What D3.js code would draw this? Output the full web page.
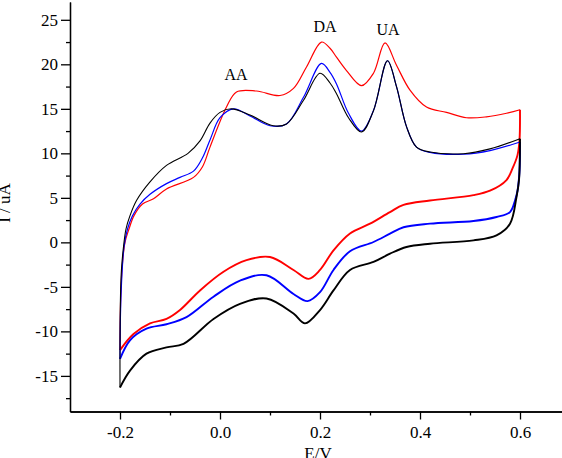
<!DOCTYPE html>
<html>
<head>
<meta charset="UTF-8">
<script src="https://d3js.org/d3.v7.min.js"></script>
<style>
  body { margin: 0; background: #fff; }
  svg text { font-family: "Liberation Serif", "Times New Roman", serif; fill: #000; }
  .axis path, .axis line { stroke: #000; stroke-width: 1.3; }
</style>
</head>
<body>
<svg id="cv" width="562" height="458"></svg>
<script>
// [E (V), I (uA)]; anodic (forward) and cathodic (reverse) sweeps
const blackFwd = [[-0.2,-16.3],[-0.2,-12],[-0.199,-6],[-0.197,-3],[-0.193,-0.5],[-0.188,1.5],[-0.18,3.0],[-0.167,4.7],[-0.14,6.8],[-0.107,8.65],[-0.064,10],[-0.04,11.4],[-0.02,13.4],[0.0,14.6],[0.023,15.0],[0.06,14.3],[0.107,13.1],[0.133,13.3],[0.167,15.96],[0.2,19.0],[0.22,17.9],[0.233,16.7],[0.257,14.0],[0.283,12.4],[0.307,14.8],[0.335,20.4],[0.353,17.5],[0.373,13.0],[0.393,10.7],[0.42,10.15],[0.487,9.96],[0.54,10.5],[0.6,11.65]];
const blackRev = [[0.6,11.65],[0.598,7],[0.593,5.1],[0.58,2.1],[0.553,0.79],[0.507,0.22],[0.42,-0.15],[0.373,-0.52],[0.34,-1.27],[0.307,-2.2],[0.26,-3.1],[0.227,-5.4],[0.2,-7.6],[0.17,-9.1],[0.147,-8.0],[0.093,-6.3],[0.04,-6.9],[-0.013,-8.6],[-0.073,-11.4],[-0.107,-11.8],[-0.147,-12.5],[-0.18,-14.4],[-0.2,-16.3]];
const blueFwd = [[-0.2,-13.1],[-0.199,-8],[-0.196,-3.5],[-0.192,-0.5],[-0.185,1.5],[-0.175,3.0],[-0.16,4.3],[-0.14,5.4],[-0.107,6.6],[-0.08,7.3],[-0.053,8.0],[-0.035,9.5],[-0.02,11.5],[0.0,14.0],[0.027,15.0],[0.06,14.2],[0.1,13.1],[0.133,13.3],[0.167,16.3],[0.203,20.1],[0.22,19.1],[0.233,17.8],[0.257,14.5],[0.283,12.5],[0.307,14.8],[0.335,20.4],[0.353,17.5],[0.373,13.0],[0.393,10.7],[0.42,10.1],[0.487,9.9],[0.54,10.3],[0.6,11.27]];
const blueRev = [[0.6,11.27],[0.599,8],[0.595,5.8],[0.59,4.7],[0.58,3.4],[0.553,2.85],[0.507,2.4],[0.42,2.1],[0.367,1.7],[0.34,0.97],[0.307,0.04],[0.26,-1.0],[0.227,-3.1],[0.2,-5.6],[0.175,-6.6],[0.147,-5.8],[0.093,-3.7],[0.04,-4.3],[-0.013,-6.1],[-0.067,-8.4],[-0.107,-9.2],[-0.147,-9.7],[-0.18,-11],[-0.2,-13.1]];
const redFwd = [[-0.2,-12.1],[-0.199,-7],[-0.196,-3],[-0.19,0],[-0.182,1.5],[-0.172,3.0],[-0.155,4.3],[-0.133,4.9],[-0.107,6.0],[-0.053,7.3],[-0.035,8.5],[-0.02,10.7],[0.013,15.2],[0.033,16.9],[0.073,17.0],[0.12,16.5],[0.147,17.3],[0.173,19.7],[0.203,22.5],[0.22,21.8],[0.233,20.8],[0.253,19.3],[0.283,17.6],[0.307,19.0],[0.33,22.4],[0.353,19.9],[0.38,17.1],[0.413,15.2],[0.453,14.6],[0.493,14.0],[0.533,14.1],[0.573,14.5],[0.6,14.9]];
const redRev = [[0.6,14.9],[0.599,11.5],[0.595,9.8],[0.585,8.3],[0.573,7.0],[0.54,5.8],[0.507,5.3],[0.42,4.7],[0.367,4.2],[0.34,3.4],[0.3,2.1],[0.26,1.0],[0.227,-0.9],[0.2,-3.1],[0.177,-4.1],[0.147,-3.1],[0.1,-1.65],[0.053,-2.0],[0.007,-3.3],[-0.04,-5.4],[-0.08,-7.6],[-0.107,-8.6],[-0.14,-9.1],[-0.173,-10.3],[-0.2,-12.1]];

const xTicks = [-0.2, 0.0, 0.2, 0.4, 0.6];
const xMinor = [-0.1, 0.1, 0.3, 0.5];
const yTicks = [-15, -10, -5, 0, 5, 10, 15, 20, 25];
const yMinor = [-17.5, -12.5, -7.5, -2.5, 2.5, 7.5, 12.5, 17.5, 22.5];
const peakLabels = [["AA", 0.032, 18.2], ["DA", 0.21, 23.6], ["UA", 0.336, 23.3]];

const svg = d3.select("svg#cv");
const serif = "'Liberation Serif', 'Times New Roman', serif";
const plotLeft = 70, plotRight = 562, plotTop = 2, plotBottom = 411.5;

const x = d3.scaleLinear().domain([-0.3, 0.684]).range([plotLeft, plotRight]);
const y = d3.scaleLinear().domain([-19, 27]).range([plotBottom, plotTop]);

// axes: major ticks with labels, minor ticks without
svg.append("g").attr("class", "axis")
   .attr("transform", "translate(0," + plotBottom + ")")
   .call(d3.axisBottom(x).tickValues(xMinor).tickSize(4).tickFormat("").tickSizeOuter(0));
svg.append("g").attr("class", "axis")
   .attr("transform", "translate(0," + plotBottom + ")")
   .call(d3.axisBottom(x).tickValues(xTicks).tickSize(8).tickPadding(6).tickFormat(d3.format(".1f")).tickSizeOuter(0))
   .attr("font-family", serif).attr("font-size", 17);

svg.append("g").attr("class", "axis")
   .attr("transform", "translate(" + plotLeft + ",0)")
   .call(d3.axisLeft(y).tickValues(yMinor).tickSize(4).tickFormat("").tickSizeOuter(0));
svg.append("g").attr("class", "axis")
   .attr("transform", "translate(" + plotLeft + ",0)")
   .call(d3.axisLeft(y).tickValues(yTicks).tickSize(9).tickPadding(3).tickSizeOuter(0))
   .attr("font-family", serif).attr("font-size", 17);

svg.selectAll(".axis text")
   .style("font-family", serif)
   .text(function() { return d3.select(this).text().replace("\u2212", "-"); });

// curves
const line = d3.line().x(d => x(d[0])).y(d => y(d[1])).curve(d3.curveCatmullRom.alpha(0.5));
const curves = [
  [redFwd, "#ff0000", 1.2], [redRev, "#ff0000", 1.9],
  [blueFwd, "#0000ff", 1.2], [blueRev, "#0000ff", 1.9],
  [blackFwd, "#000000", 1.1], [blackRev, "#000000", 1.9]
];
curves.forEach(c => {
  svg.append("path").datum(c[0])
     .attr("d", line)
     .attr("fill", "none")
     .attr("stroke", c[1])
     .attr("stroke-width", c[2])
     .attr("stroke-linejoin", "round");
});

peakLabels.forEach(p => {
  svg.append("text").attr("x", x(p[1])).attr("y", y(p[2]))
     .attr("text-anchor", "middle").attr("font-size", 16).text(p[0]);
});

// axis titles, partly cut by the edges as in the original figure
svg.append("text").attr("x", 318).attr("y", 459)
   .attr("text-anchor", "middle").attr("font-size", 17).text("E/V");
svg.append("text").attr("transform", "translate(10,203) rotate(-90)")
   .attr("text-anchor", "middle").attr("font-size", 17).text("I / uA");
</script>
</body>
</html>
